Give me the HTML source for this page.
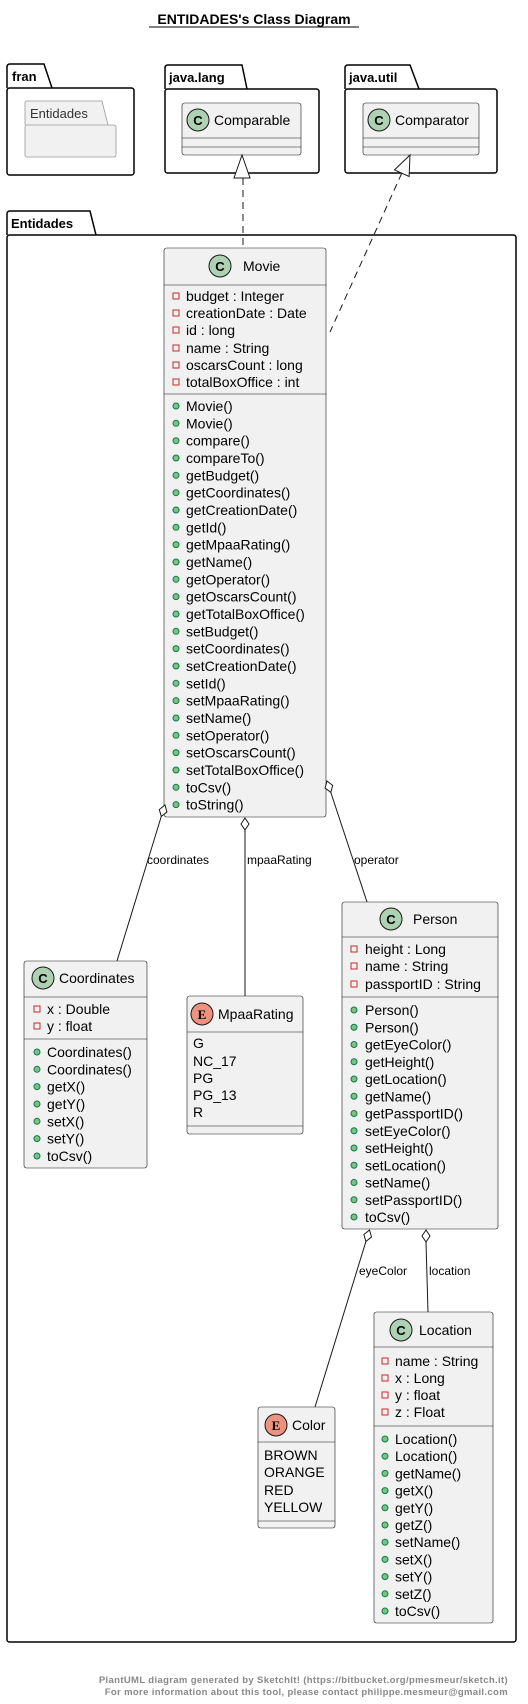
<!DOCTYPE html>
<html><head><meta charset="utf-8"><style>
html,body{margin:0;padding:0;background:#fff;}
svg{display:block;font-family:"Liberation Sans",sans-serif;}
.t{font-size:14px;fill:#000;}
.lbl{font-size:12px;fill:#000;}
.box{fill:#F1F1F1;stroke:#181818;stroke-width:0.6;}
.sep{stroke:#181818;stroke-width:0.6;}
.pk{fill:none;stroke:#000;stroke-width:1.5;}
.pv{fill:none;stroke:#C82930;stroke-width:1;}
.pu{fill:#84BE84;stroke:#038048;stroke-width:1;}
.ci{fill:#ADD1B2;stroke:#181818;stroke-width:1;}
.ei{fill:#EB937F;stroke:#181818;stroke-width:1;}
.ln{stroke:#181818;stroke-width:1;fill:none;}
.dm{fill:#fff;stroke:#181818;stroke-width:1;}
</style></head><body>
<svg width="528" height="1704" viewBox="0 0 528 1704" xmlns="http://www.w3.org/2000/svg">
<!-- title -->
<text x="254" y="24" text-anchor="middle" font-size="14" font-weight="bold">ENTIDADES's Class Diagram</text>
<line x1="149" y1="27" x2="359" y2="27" stroke="#000" stroke-width="1"/>

<!-- fran package -->
<path class="pk" d="M7,88 V67 Q7,64 10,64 H44 L52,88"/>
<rect class="pk" x="7" y="88" width="127" height="87" rx="2.5"/>
<text x="12" y="81" font-size="13" font-weight="bold">fran</text>
<path d="M25,125 V103 Q25,101 27,101 H102 L108,125" fill="#F1F1F1" stroke="#999" stroke-width="0.8"/>
<rect x="25" y="125" width="91" height="32" rx="2" fill="#F1F1F1" stroke="#999" stroke-width="0.8"/>
<text x="30" y="118" font-size="13" fill="#333">Entidades</text>

<!-- java.lang -->
<path class="pk" d="M165,89 V68 Q165,65 168,65 H242 L247,89"/>
<rect class="pk" x="165" y="89" width="154" height="84" rx="2.5"/>
<text x="169" y="82" font-size="13" font-weight="bold">java.lang</text>
<rect class="box" x="182" y="103" width="119" height="52" rx="2.5"/>
<line class="sep" x1="182" y1="138" x2="301" y2="138"/>
<line class="sep" x1="182" y1="147" x2="301" y2="147"/>
<circle class="ci" cx="198" cy="120" r="11"/>
<text x="198" y="125" text-anchor="middle" font-size="13" font-weight="bold">C</text>
<text class="t" x="214" y="125">Comparable</text>

<!-- java.util -->
<path class="pk" d="M345,89 V68 Q345,65 348,65 H410 L419,89"/>
<rect class="pk" x="345" y="89" width="152" height="84" rx="2.5"/>
<text x="349" y="82" font-size="13" font-weight="bold">java.util</text>
<rect class="box" x="363" y="103" width="116" height="52" rx="2.5"/>
<line class="sep" x1="363" y1="138" x2="479" y2="138"/>
<line class="sep" x1="363" y1="147" x2="479" y2="147"/>
<circle class="ci" cx="379" cy="120" r="11"/>
<text x="379" y="125" text-anchor="middle" font-size="13" font-weight="bold">C</text>
<text class="t" x="395" y="125">Comparator</text>

<!-- Entidades package -->
<path class="pk" d="M7,235 V214 Q7,211 10,211 H90 L96,235"/>
<rect class="pk" x="7" y="235" width="509" height="1407" rx="2.5"/>
<text x="11" y="228" font-size="13" font-weight="bold">Entidades</text>

<!-- realization arrows -->
<line x1="243" y1="178" x2="243" y2="248" stroke="#181818" stroke-width="1" stroke-dasharray="7,5"/>
<polygon points="242,155 234,178 250,178" fill="#fff" stroke="#181818" stroke-width="1"/>
<line x1="401.8" y1="173.2" x2="330" y2="332" stroke="#181818" stroke-width="1" stroke-dasharray="7,5"/>
<polygon points="410,155 409.1,176.5 394.5,169.9" fill="#fff" stroke="#181818" stroke-width="1"/>

<!-- Movie -->
<rect class="box" x="164" y="248" width="162" height="569" rx="2.5"/>
<line class="sep" x1="164" y1="285" x2="326" y2="285"/>
<line class="sep" x1="164" y1="394" x2="326" y2="394"/>
<circle class="ci" cx="220" cy="266" r="11"/>
<text x="220" y="271" text-anchor="middle" font-size="13" font-weight="bold">C</text>
<text class="t" x="243" y="271">Movie</text>
<g>
<rect class="pv" x="173" y="293" width="6" height="6"/><text class="t" x="186" y="301">budget : Integer</text>
<rect class="pv" x="173" y="310" width="6" height="6"/><text class="t" x="186" y="318">creationDate : Date</text>
<rect class="pv" x="173" y="327" width="6" height="6"/><text class="t" x="186" y="335">id : long</text>
<rect class="pv" x="173" y="345" width="6" height="6"/><text class="t" x="186" y="353">name : String</text>
<rect class="pv" x="173" y="362" width="6" height="6"/><text class="t" x="186" y="370">oscarsCount : long</text>
<rect class="pv" x="173" y="379" width="6" height="6"/><text class="t" x="186" y="387">totalBoxOffice : int</text>
</g>
<g>
<circle class="pu" cx="176" cy="406" r="3"/><text class="t" x="186" y="411">Movie()</text>
<circle class="pu" cx="176" cy="423.3" r="3"/><text class="t" x="186" y="428.3">Movie()</text>
<circle class="pu" cx="176" cy="440.7" r="3"/><text class="t" x="186" y="445.7">compare()</text>
<circle class="pu" cx="176" cy="458" r="3"/><text class="t" x="186" y="463">compareTo()</text>
<circle class="pu" cx="176" cy="475.3" r="3"/><text class="t" x="186" y="480.3">getBudget()</text>
<circle class="pu" cx="176" cy="492.7" r="3"/><text class="t" x="186" y="497.7">getCoordinates()</text>
<circle class="pu" cx="176" cy="510" r="3"/><text class="t" x="186" y="515">getCreationDate()</text>
<circle class="pu" cx="176" cy="527.3" r="3"/><text class="t" x="186" y="532.3">getId()</text>
<circle class="pu" cx="176" cy="544.6" r="3"/><text class="t" x="186" y="549.6">getMpaaRating()</text>
<circle class="pu" cx="176" cy="562" r="3"/><text class="t" x="186" y="567">getName()</text>
<circle class="pu" cx="176" cy="579.3" r="3"/><text class="t" x="186" y="584.3">getOperator()</text>
<circle class="pu" cx="176" cy="596.6" r="3"/><text class="t" x="186" y="601.6">getOscarsCount()</text>
<circle class="pu" cx="176" cy="614" r="3"/><text class="t" x="186" y="619">getTotalBoxOffice()</text>
<circle class="pu" cx="176" cy="631.3" r="3"/><text class="t" x="186" y="636.3">setBudget()</text>
<circle class="pu" cx="176" cy="648.6" r="3"/><text class="t" x="186" y="653.6">setCoordinates()</text>
<circle class="pu" cx="176" cy="666" r="3"/><text class="t" x="186" y="671">setCreationDate()</text>
<circle class="pu" cx="176" cy="683.3" r="3"/><text class="t" x="186" y="688.3">setId()</text>
<circle class="pu" cx="176" cy="700.6" r="3"/><text class="t" x="186" y="705.6">setMpaaRating()</text>
<circle class="pu" cx="176" cy="718" r="3"/><text class="t" x="186" y="723">setName()</text>
<circle class="pu" cx="176" cy="735.3" r="3"/><text class="t" x="186" y="740.3">setOperator()</text>
<circle class="pu" cx="176" cy="752.6" r="3"/><text class="t" x="186" y="757.6">setOscarsCount()</text>
<circle class="pu" cx="176" cy="770" r="3"/><text class="t" x="186" y="775">setTotalBoxOffice()</text>
<circle class="pu" cx="176" cy="787.3" r="3"/><text class="t" x="186" y="792.3">toCsv()</text>
<circle class="pu" cx="176" cy="804.6" r="3"/><text class="t" x="186" y="809.6">toString()</text>
</g>

<!-- Movie connectors -->
<line class="ln" x1="161.3" y1="816.4" x2="117" y2="961"/>
<polygon class="dm" points="165,805 166.9,812 161.3,816.4 159.3,809.5"/>
<text class="lbl" x="147" y="864">coordinates</text>
<line class="ln" x1="245" y1="830" x2="245" y2="996"/>
<polygon class="dm" points="245,818 249,824 245,830 241,824"/>
<text class="lbl" x="247" y="864">mpaaRating</text>
<line class="ln" x1="330.8" y1="792.4" x2="367" y2="902"/>
<polygon class="dm" points="327,781 332.7,785.4 330.8,792.4 325.1,788"/>
<text class="lbl" x="354" y="864">operator</text>

<!-- Coordinates -->
<rect class="box" x="24" y="961" width="123" height="207" rx="2.5"/>
<line class="sep" x1="24" y1="997" x2="147" y2="997"/>
<line class="sep" x1="24" y1="1039" x2="147" y2="1039"/>
<circle class="ci" cx="43" cy="978" r="11"/>
<text x="43" y="983" text-anchor="middle" font-size="13" font-weight="bold">C</text>
<text class="t" x="59" y="983">Coordinates</text>
<rect class="pv" x="34" y="1006" width="6" height="6"/><text class="t" x="47" y="1014">x : Double</text>
<rect class="pv" x="34" y="1023" width="6" height="6"/><text class="t" x="47" y="1031">y : float</text>
<circle class="pu" cx="37" cy="1052" r="3"/><text class="t" x="47" y="1057">Coordinates()</text>
<circle class="pu" cx="37" cy="1069.3" r="3"/><text class="t" x="47" y="1074.3">Coordinates()</text>
<circle class="pu" cx="37" cy="1086.6" r="3"/><text class="t" x="47" y="1091.6">getX()</text>
<circle class="pu" cx="37" cy="1104" r="3"/><text class="t" x="47" y="1109">getY()</text>
<circle class="pu" cx="37" cy="1121.3" r="3"/><text class="t" x="47" y="1126.3">setX()</text>
<circle class="pu" cx="37" cy="1138.6" r="3"/><text class="t" x="47" y="1143.6">setY()</text>
<circle class="pu" cx="37" cy="1156" r="3"/><text class="t" x="47" y="1161">toCsv()</text>

<!-- MpaaRating -->
<rect class="box" x="187" y="996" width="116" height="138" rx="2.5"/>
<line class="sep" x1="187" y1="1032" x2="303" y2="1032"/>
<line class="sep" x1="187" y1="1126" x2="303" y2="1126"/>
<circle class="ei" cx="202" cy="1014" r="11"/>
<text x="202" y="1019" text-anchor="middle" font-size="13" font-weight="bold" font-family="Liberation Serif,serif">E</text>
<text class="t" x="218" y="1019">MpaaRating</text>
<text class="t" x="193" y="1048">G</text>
<text class="t" x="193" y="1066">NC_17</text>
<text class="t" x="193" y="1083">PG</text>
<text class="t" x="193" y="1100">PG_13</text>
<text class="t" x="193" y="1117">R</text>

<!-- Person -->
<rect class="box" x="342" y="902" width="156" height="327" rx="2.5"/>
<line class="sep" x1="342" y1="937" x2="498" y2="937"/>
<line class="sep" x1="342" y1="997" x2="498" y2="997"/>
<circle class="ci" cx="391" cy="919" r="11"/>
<text x="391" y="924" text-anchor="middle" font-size="13" font-weight="bold">C</text>
<text class="t" x="413" y="924">Person</text>
<rect class="pv" x="351" y="946" width="6" height="6"/><text class="t" x="365" y="954">height : Long</text>
<rect class="pv" x="351" y="963" width="6" height="6"/><text class="t" x="365" y="971">name : String</text>
<rect class="pv" x="351" y="981" width="6" height="6"/><text class="t" x="365" y="989">passportID : String</text>
<circle class="pu" cx="354" cy="1010" r="3"/><text class="t" x="365" y="1015">Person()</text>
<circle class="pu" cx="354" cy="1027.25" r="3"/><text class="t" x="365" y="1032.25">Person()</text>
<circle class="pu" cx="354" cy="1044.5" r="3"/><text class="t" x="365" y="1049.5">getEyeColor()</text>
<circle class="pu" cx="354" cy="1061.75" r="3"/><text class="t" x="365" y="1066.75">getHeight()</text>
<circle class="pu" cx="354" cy="1079" r="3"/><text class="t" x="365" y="1084">getLocation()</text>
<circle class="pu" cx="354" cy="1096.25" r="3"/><text class="t" x="365" y="1101.25">getName()</text>
<circle class="pu" cx="354" cy="1113.5" r="3"/><text class="t" x="365" y="1118.5">getPassportID()</text>
<circle class="pu" cx="354" cy="1130.75" r="3"/><text class="t" x="365" y="1135.75">setEyeColor()</text>
<circle class="pu" cx="354" cy="1148" r="3"/><text class="t" x="365" y="1153">setHeight()</text>
<circle class="pu" cx="354" cy="1165.25" r="3"/><text class="t" x="365" y="1170.25">setLocation()</text>
<circle class="pu" cx="354" cy="1182.5" r="3"/><text class="t" x="365" y="1187.5">setName()</text>
<circle class="pu" cx="354" cy="1199.75" r="3"/><text class="t" x="365" y="1204.75">setPassportID()</text>
<circle class="pu" cx="354" cy="1217" r="3"/><text class="t" x="365" y="1222">toCsv()</text>

<!-- Person connectors -->
<line class="ln" x1="365.9" y1="1241.5" x2="315" y2="1407"/>
<polygon class="dm" points="369.5,1230 371.5,1236.9 365.9,1241.5 363.9,1234.5"/>
<text class="lbl" x="359" y="1275">eyeColor</text>
<line class="ln" x1="426" y1="1242" x2="428" y2="1312"/>
<polygon class="dm" points="426,1230 430,1236 426,1242 422,1236"/>
<text class="lbl" x="429" y="1275">location</text>

<!-- Color -->
<rect class="box" x="258" y="1407" width="77" height="121" rx="2.5"/>
<line class="sep" x1="258" y1="1442" x2="335" y2="1442"/>
<line class="sep" x1="258" y1="1521" x2="335" y2="1521"/>
<circle class="ei" cx="276" cy="1425" r="11"/>
<text x="276" y="1430" text-anchor="middle" font-size="13" font-weight="bold" font-family="Liberation Serif,serif">E</text>
<text class="t" x="292" y="1430">Color</text>
<text class="t" x="264" y="1460">BROWN</text>
<text class="t" x="264" y="1477">ORANGE</text>
<text class="t" x="264" y="1495">RED</text>
<text class="t" x="264" y="1512">YELLOW</text>

<!-- Location -->
<rect class="box" x="374" y="1312" width="119" height="311" rx="2.5"/>
<line class="sep" x1="374" y1="1347" x2="493" y2="1347"/>
<line class="sep" x1="374" y1="1426" x2="493" y2="1426"/>
<circle class="ci" cx="401" cy="1330" r="11"/>
<text x="401" y="1335" text-anchor="middle" font-size="13" font-weight="bold">C</text>
<text class="t" x="419" y="1335">Location</text>
<rect class="pv" x="382" y="1358" width="6" height="6"/><text class="t" x="395" y="1366">name : String</text>
<rect class="pv" x="382" y="1375" width="6" height="6"/><text class="t" x="395" y="1383">x : Long</text>
<rect class="pv" x="382" y="1392" width="6" height="6"/><text class="t" x="395" y="1400">y : float</text>
<rect class="pv" x="382" y="1409" width="6" height="6"/><text class="t" x="395" y="1417">z : Float</text>
<circle class="pu" cx="385" cy="1439" r="3"/><text class="t" x="395" y="1444">Location()</text>
<circle class="pu" cx="385" cy="1456.2" r="3"/><text class="t" x="395" y="1461.2">Location()</text>
<circle class="pu" cx="385" cy="1473.4" r="3"/><text class="t" x="395" y="1478.4">getName()</text>
<circle class="pu" cx="385" cy="1490.6" r="3"/><text class="t" x="395" y="1495.6">getX()</text>
<circle class="pu" cx="385" cy="1507.8" r="3"/><text class="t" x="395" y="1512.8">getY()</text>
<circle class="pu" cx="385" cy="1525" r="3"/><text class="t" x="395" y="1530">getZ()</text>
<circle class="pu" cx="385" cy="1542.2" r="3"/><text class="t" x="395" y="1547.2">setName()</text>
<circle class="pu" cx="385" cy="1559.4" r="3"/><text class="t" x="395" y="1564.4">setX()</text>
<circle class="pu" cx="385" cy="1576.6" r="3"/><text class="t" x="395" y="1581.6">setY()</text>
<circle class="pu" cx="385" cy="1593.8" r="3"/><text class="t" x="395" y="1598.8">setZ()</text>
<circle class="pu" cx="385" cy="1611" r="3"/><text class="t" x="395" y="1616">toCsv()</text>

<!-- footer -->
<text x="508" y="1683" text-anchor="end" font-size="9.5" font-weight="bold" fill="#888" letter-spacing="0.35">PlantUML diagram generated by SketchIt! (https://bitbucket.org/pmesmeur/sketch.it)</text>
<text x="508" y="1695" text-anchor="end" font-size="9.5" font-weight="bold" fill="#888" letter-spacing="0.35">For more information about this tool, please contact philippe.mesmeur@gmail.com</text>
</svg>
</body></html>
